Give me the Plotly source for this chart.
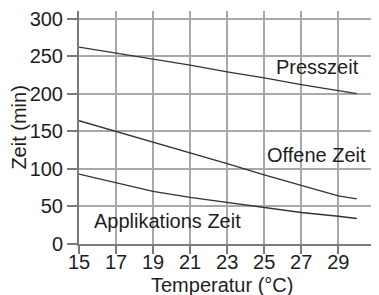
import plotly.graph_objects as go

temps = [15, 17, 19, 21, 23, 25, 27, 29, 30]
presszeit = [262, 254, 246, 238, 229, 221, 212, 204, 200]
offene_zeit = [164, 150, 135, 122, 107, 92, 78, 64, 60]
applikations_zeit = [93, 82, 70, 62, 55, 49, 42, 37, 34]

x_ticks = [15, 17, 19, 21, 23, 25, 27, 29, 31]
x_ticktext = ["15", "17", "19", "21", "23", "25", "27", "29", ""]
y_ticks = [0, 50, 100, 150, 200, 250, 300]

labels = ["Presszeit", "Offene Zeit", "Applikations Zeit"]
FONT = "Liberation Sans, Arial, sans-serif"
TXT = "#1e1e1e"
LINE = "#333333"
FS = 20

fig = go.Figure()
for ys in (presszeit, offene_zeit, applikations_zeit):
    fig.add_trace(go.Scatter(x=temps, y=ys, mode="lines",
                             line=dict(color=LINE, width=1.4), showlegend=False,
                             hoverinfo="skip"))

fig.add_annotation(x=25.55, y=236, text=labels[0], showarrow=False, xanchor="left",
                   yanchor="middle", font=dict(size=FS, color=TXT, family=FONT))
fig.add_annotation(x=25.05, y=119, text=labels[1], showarrow=False, xanchor="left",
                   yanchor="middle", font=dict(size=FS, color=TXT, family=FONT))
fig.add_annotation(x=15.7, y=31, text=labels[2], showarrow=False, xanchor="left",
                   yanchor="middle", font=dict(size=FS, color=TXT, family=FONT))

fig.add_annotation(xref="paper", yref="paper", x=0.477, y=-0.176, text="Temperatur (°C)",
                   showarrow=False, xanchor="center", yanchor="middle",
                   font=dict(size=FS, color=TXT, family=FONT))
fig.add_annotation(xref="paper", yref="paper", x=-0.203, y=0.5, text="Zeit (min)",
                   showarrow=False, xanchor="center", yanchor="middle", textangle=-90,
                   font=dict(size=FS, color=TXT, family=FONT))

fig.update_xaxes(range=[15, 31.2], tickvals=x_ticks, ticktext=x_ticktext,
                 showgrid=True, gridcolor="#a8a8a8", gridwidth=2,
                 showline=True, linecolor="#7a7a7a", linewidth=2,
                 ticks="outside", ticklen=8, tickcolor="#7a7a7a", tickwidth=2,
                 ticklabelstandoff=-9, ticklabeloverflow="allow",
                 tickfont=dict(size=FS, color=TXT, family=FONT), zeroline=False)
fig.update_yaxes(range=[0, 310], tickvals=y_ticks,
                 showgrid=True, gridcolor="#a8a8a8", gridwidth=2,
                 showline=True, linecolor="#7a7a7a", linewidth=2,
                 ticks="outside", ticklen=10, tickcolor="#7a7a7a", tickwidth=2,
                 ticklabeloverflow="allow",
                 tickfont=dict(size=FS, color=TXT, family=FONT), zeroline=False)

# page body has an 8px margin; compensate so plot area lands where the reference has it
fig.update_layout(width=371, height=287, margin=dict(l=71, r=0, t=0, b=51),
                  plot_bgcolor="white", paper_bgcolor="white",
                  font=dict(family=FONT, color=TXT))

fig.write_html("out.html")
